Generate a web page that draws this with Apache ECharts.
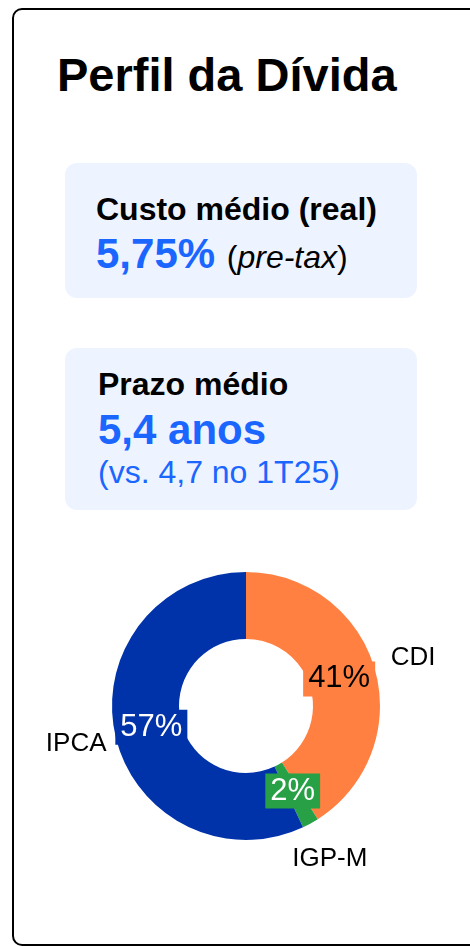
<!DOCTYPE html>
<html>
<head>
<meta charset="utf-8">
<script src="https://cdn.jsdelivr.net/npm/echarts@6/dist/echarts.min.js"></script>
<style>
    html, body { margin: 0; padding: 0; background: #fff; width: 470px; height: 947px; overflow: hidden; }
    body { position: relative; font-family: "Liberation Sans", Arial, sans-serif; }
    .card {
        position: absolute; left: 12px; top: 8px; width: 490px; height: 938px;
        border: 2px solid #000; border-radius: 10px; box-sizing: border-box;
    }
    .title { position: absolute; left: 57px; top: 51px; font-size: 47px; line-height: 47px; font-weight: bold; color: #000; white-space: nowrap; }
    .box { position: absolute; left: 65px; width: 352px; background: #EEF4FF; border-radius: 12px; }
    .txt { position: absolute; white-space: nowrap; }
    .lbl { font-size: 32px; line-height: 32px; font-weight: bold; color: #000; }
    .big { font-size: 42px; line-height: 42px; font-weight: bold; color: #1A66FF; }
    .sub { font-size: 32px; line-height: 32px; color: #1A66FF; }
    .note { font-weight: normal; color: #000; font-size: 32px; }
    #chart { position: absolute; left: 0; top: 0; width: 470px; height: 947px; }
</style>
</head>
<body>
<div class="card"></div>
<div class="title">Perfil da Dívida</div>

<div class="box" style="top:163px;height:135px;"></div>
<div class="txt lbl" style="left:96px;top:193px;">Custo médio (real)</div>
<div class="txt big" style="left:96px;top:233px;">5,75% <span class="note">(<i>pre-tax</i>)</span></div>

<div class="box" style="top:348px;height:162px;"></div>
<div class="txt lbl" style="left:98px;top:368px;">Prazo médio</div>
<div class="txt big" style="left:98px;top:409px;">5,4 anos</div>
<div class="txt sub" style="left:98px;top:456px;">(vs. 4,7 no 1T25)</div>

<div id="chart"></div>
<script>
    // 分类、占比、颜色
    var categories = ["CDI", "IGP-M", "IPCA"];
    var shares = [41, 2, 57];
    var sliceColors = ["#FF8040", "#28A046", "#0033AA"];
    var pctTextColors = ["#000000", "#ffffff", "#ffffff"];

    var fontFamily = "Liberation Sans, Arial, sans-serif";
    var pieCenter = [246, 706];

    // 环形数据
    var ringData = categories.map(function(name, i) {
        return { name: name, value: shares[i], itemStyle: { color: sliceColors[i] } };
    });

    // 百分比标签（透明环，带背景色）
    var pctData = categories.map(function(name, i) {
        return {
            name: name,
            value: shares[i],
            label: { color: pctTextColors[i], backgroundColor: sliceColors[i] }
        };
    });

    // 外侧名称标签（透明环）
    var nameData = categories.map(function(name, i) {
        return { name: name, value: shares[i] };
    });

    // 透明饼图的公共设置
    function labelRing(radius, data, label) {
        return {
            type: "pie",
            center: pieCenter,
            radius: radius,
            startAngle: 90,
            clockwise: true,
            silent: true,
            itemStyle: { color: "rgba(0,0,0,0)" },
            label: label,
            labelLine: { show: false },
            emphasis: { disabled: true },
            data: data
        };
    }

    var myChart = echarts.init(document.getElementById("chart"), null, { renderer: "canvas" });
    var option = {
        animation: false,
        series: [{
            type: "pie",
            center: pieCenter,
            radius: [67, 134],
            startAngle: 90,
            clockwise: true,
            silent: true,
            label: { show: false },
            labelLine: { show: false },
            emphasis: { disabled: true },
            data: ringData
        },
        labelRing([60, 128], pctData, {
            show: true,
            position: "inside",
            formatter: "{c}%",
            fontSize: 31,
            fontFamily: fontFamily,
            lineHeight: 31,
            padding: [2, 5]
        }),
        labelRing([142, 200], nameData, {
            show: true,
            position: "inside",
            formatter: "{b}",
            fontSize: 26,
            fontFamily: fontFamily,
            color: "#000"
        })]
    };
    myChart.setOption(option);
</script>
</body>
</html>
